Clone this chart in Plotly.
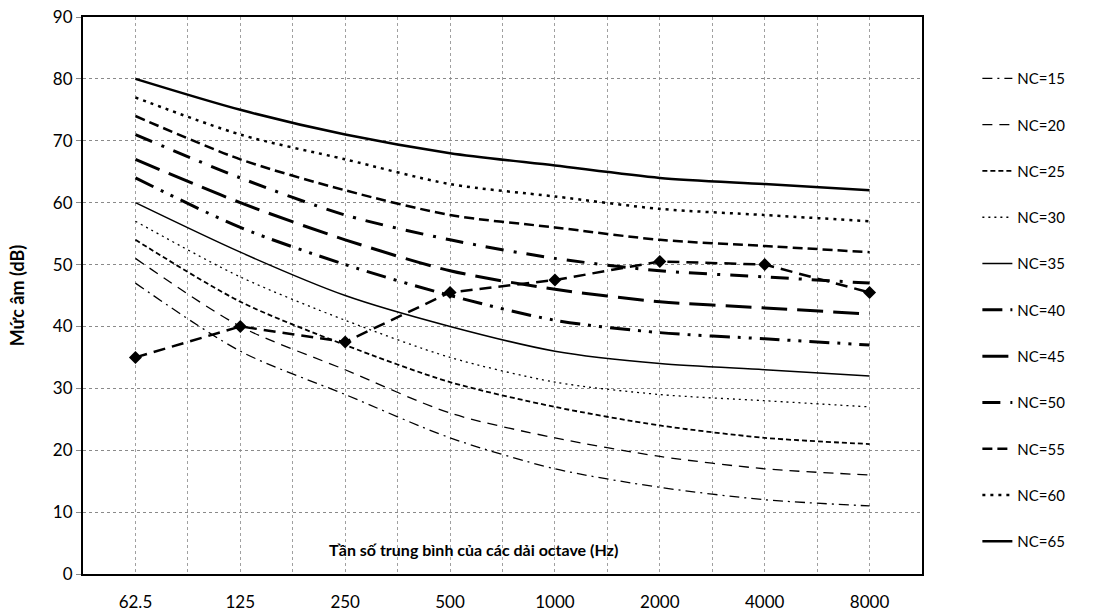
import plotly.graph_objects as go

# Octave-band centre frequencies (Hz)
freq_labels = ["62.5", "125", "250", "500", "1000", "2000", "4000", "8000"]

# Noise Criterion curves (dB)
nc15 = [47, 36, 29, 22, 17, 14, 12, 11]
nc20 = [51, 40, 33, 26, 22, 19, 17, 16]
nc25 = [54, 44, 37, 31, 27, 24, 22, 21]
nc30 = [57, 48, 41, 35, 31, 29, 28, 27]
nc35 = [60, 52, 45, 40, 36, 34, 33, 32]
nc40 = [64, 56, 50, 45, 41, 39, 38, 37]
nc45 = [67, 60, 54, 49, 46, 44, 43, 42]
nc50 = [71, 64, 58, 54, 51, 49, 48, 47]
nc55 = [74, 67, 62, 58, 56, 54, 53, 52]
nc60 = [77, 71, 67, 63, 61, 59, 58, 57]
nc65 = [80, 75, 71, 68, 66, 64, 63, 62]

# Measured spectrum (dB)
measured = [35, 40, 37.5, 45.5, 47.5, 50.5, 50, 45.5]

y_ticks = [0, 10, 20, 30, 40, 50, 60, 70, 80, 90]

FONT = "Lato"
x_idx = list(range(len(freq_labels)))

curves = [
    ("NC=15", nc15, dict(width=1.3, dash="10px,5px,2px,5px")),
    ("NC=20", nc20, dict(width=1.3, dash="10px,7px")),
    ("NC=25", nc25, dict(width=1.8, dash="5px,3px")),
    ("NC=30", nc30, dict(width=1.3, dash="2px,4px")),
    ("NC=35", nc35, dict(width=1.5, dash="solid")),
    ("NC=40", nc40, dict(width=3, dash="20px,8px,3px,8px,3px,8px")),
    ("NC=45", nc45, dict(width=3, dash="26px,10px")),
    ("NC=50", nc50, dict(width=3, dash="18px,10px,3px,10px")),
    ("NC=55", nc55, dict(width=2.5, dash="10px,5px")),
    ("NC=60", nc60, dict(width=2.5, dash="3px,5px")),
    ("NC=65", nc65, dict(width=2.5, dash="solid")),
]

fig = go.Figure()
for name, vals, style in curves:
    fig.add_trace(go.Scatter(
        x=x_idx, y=vals, name=name, mode="lines",
        line=dict(color="black", shape="spline", smoothing=0.8, **style),
        legendgroup=name,
    ))

fig.add_trace(go.Scatter(
    x=x_idx, y=measured, mode="lines+markers", showlegend=False,
    line=dict(color="black", width=2.5, dash="12px,7px"),
    marker=dict(symbol="diamond", size=10, color="black"),
))

fig.add_annotation(
    text="<b>Tần số trung bình của các dải octave (Hz)</b>",
    xref="paper", yref="y", x=0.465, y=3.9,
    showarrow=False, font=dict(family=FONT, size=16, color="black"),
)

fig.update_layout(
    width=1100, height=616,
    margin=dict(l=83, r=178, t=17, b=42),
    paper_bgcolor="white", plot_bgcolor="white",
    font=dict(family=FONT, size=15, color="black"),
    showlegend=True,
    legend=dict(
        x=1.066, xanchor="left", y=0.919, yanchor="top",
        font=dict(family=FONT, size=15, color="black"),
        traceorder="grouped", tracegroupgap=23.8,
        bgcolor="rgba(0,0,0,0)",
    ),
    xaxis=dict(
        range=[-0.5, 7.5], automargin=False,
        tickmode="array", tickvals=x_idx, ticktext=freq_labels,
        showgrid=True, gridcolor="#a0a0a0", griddash="dot", gridwidth=1,
        minor=dict(tickvals=[i + 0.5 for i in range(-1, 8)], showgrid=True,
                   gridcolor="#a0a0a0", griddash="dot", gridwidth=1),
        showline=True, linecolor="black", linewidth=2, mirror=True,
        ticks="", ticklabelstandoff=12,
        tickfont=dict(family=FONT, size=17, color="black"),
        zeroline=False,
    ),
    yaxis=dict(
        range=[0, 90], tickvals=y_ticks, automargin=False,
        title=dict(text="<b>Mức âm (dB)</b>", font=dict(family=FONT, size=18), standoff=24),
        showgrid=True, gridcolor="#8a8a8a", griddash="dot", gridwidth=1,
        showline=True, linecolor="black", linewidth=2, mirror=True,
        ticks="outside", ticklen=5, tickcolor="#888",
        tickfont=dict(family=FONT, size=17, color="black"),
        zeroline=False,
    ),
)

fig.write_html("out.html")
